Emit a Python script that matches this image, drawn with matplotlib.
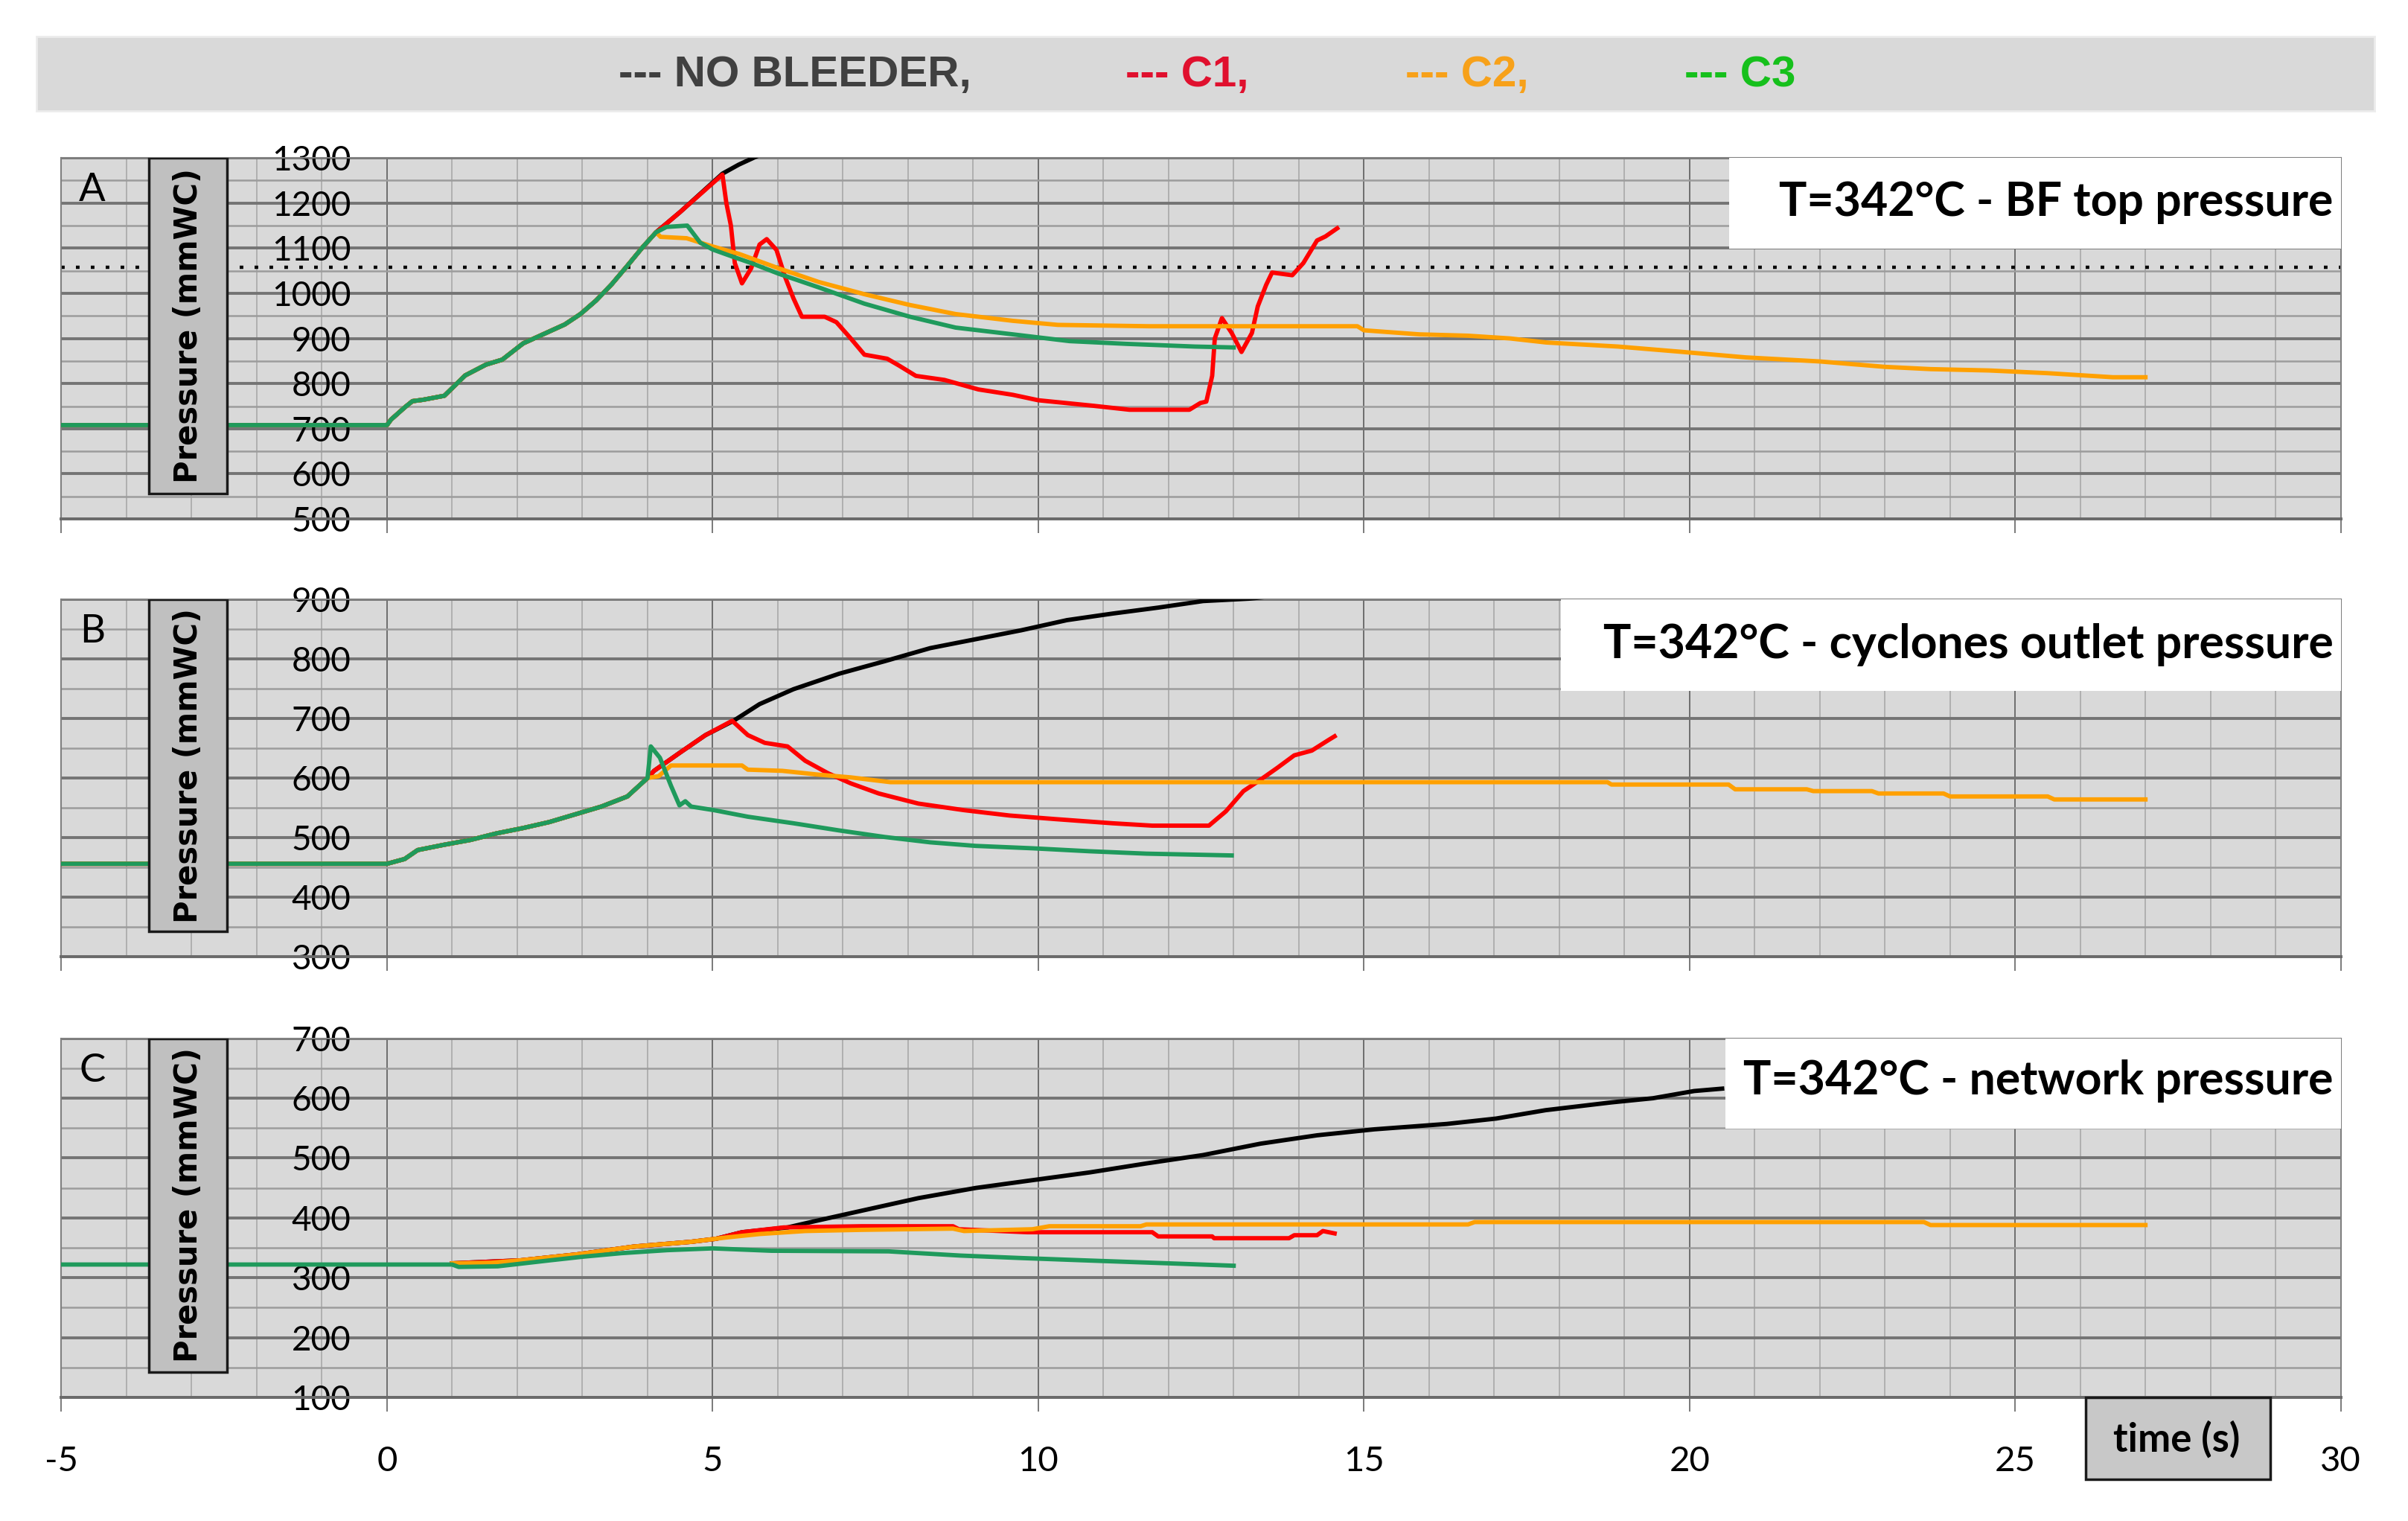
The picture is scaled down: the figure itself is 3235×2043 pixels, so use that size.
import matplotlib.pyplot as plt
from matplotlib.patches import Rectangle
from matplotlib.ticker import MultipleLocator

plt.rcParams['axes.unicode_minus'] = False

# values (time in s, pressure in mmWC)

# panel A - BF top pressure
a_rise_t = [-5, 0, 0.06, 0.27, 0.39, 0.55, 0.88, 1.2, 1.52, 1.77, 2.09, 2.41, 2.73, 2.97, 3.21, 3.45, 3.69, 3.93, 4.13]
a_rise_p = [708, 708, 720, 747, 761, 764, 773, 818, 842, 853, 889, 910, 931, 954, 984, 1020, 1061, 1103, 1135]

a_black_t = a_rise_t + [4.5, 5.15, 5.4, 5.7, 6.0]
a_black_p = a_rise_p + [1180, 1265, 1285, 1305, 1330]

a_red_t = a_rise_t + [4.5, 5.15, 5.21, 5.28, 5.34, 5.45, 5.59, 5.72, 5.83, 5.98, 6.11, 6.24, 6.37, 6.72, 6.9,
                      7.12, 7.33, 7.68, 7.86, 8.12, 8.56, 9.08, 9.61, 10.0, 10.83, 11.4, 12.32, 12.49, 12.58,
                      12.67, 12.71, 12.82, 12.97, 13.12, 13.28, 13.37, 13.5, 13.59, 13.9, 14.07, 14.28, 14.41, 14.59]
a_red_p = a_rise_p + [1180, 1263, 1200, 1150, 1067, 1022, 1055, 1108, 1120, 1096, 1037, 989, 948, 948, 936,
                      900, 864, 855, 840, 817, 808, 787, 775, 763, 751, 742, 742, 757, 760,
                      817, 900, 945, 912, 870, 912, 971, 1019, 1046, 1040, 1067, 1117, 1126, 1144]

a_orange_t = a_rise_t + [4.2, 4.6, 4.97, 5.41, 6.02, 6.63, 7.33, 8.03, 8.73, 9.61, 10.3, 11.7, 14.9, 15.0, 15.85,
                         16.6, 17.24, 17.8, 18.9, 19.9, 20.86, 22.0, 23.0, 23.7, 24.6, 25.5, 26.5, 27.0]
a_orange_p = a_rise_p + [1125, 1122, 1105, 1087, 1055, 1025, 998, 974, 954, 939, 930, 927, 927, 918, 909,
                         906, 900, 891, 882, 870, 858, 849, 837, 832, 829, 823, 814, 814]

a_green_t = a_rise_t + [4.29, 4.61, 4.81, 5.0, 5.29, 5.59, 6.02, 6.63, 7.33, 8.03, 8.73, 9.61, 10.48, 11.35, 12.4, 13.0]
a_green_p = a_rise_p + [1147, 1150, 1112, 1097, 1082, 1067, 1043, 1013, 977, 948, 924, 909, 894, 888, 882, 880]

a_limit = 1058

# panel B - cyclones outlet pressure
b_rise_t = [-5, 0, 0.27, 0.47, 0.88, 1.28, 1.68, 2.09, 2.49, 2.89, 3.29, 3.69, 4.0]
b_rise_p = [456, 456, 464, 479, 488, 496, 507, 516, 526, 539, 552, 569, 600]

b_black_t = b_rise_t + [4.1, 4.49, 4.89, 5.32, 5.72, 6.24, 6.94, 7.64, 8.34, 9.04, 9.74, 10.44, 11.14, 11.84,
                        12.53, 13.23, 13.6]
b_black_p = b_rise_p + [612, 642, 672, 696, 724, 749, 775, 796, 818, 833, 848, 865, 876, 886,
                        897, 901, 905]

b_red_t = b_rise_t + [4.1, 4.49, 4.89, 5.3, 5.54, 5.8, 6.15, 6.42, 6.77, 7.12, 7.55, 8.16, 8.86, 9.56, 10.26,
                      11.14, 11.75, 12.62, 12.88, 13.15, 13.41, 13.67, 13.93, 14.2, 14.46, 14.55]
b_red_p = b_rise_p + [612, 642, 672, 696, 672, 659, 653, 629, 608, 591, 574, 557, 546, 537, 531,
                      524, 520, 520, 544, 578, 597, 617, 638, 646, 664, 670]

b_orange_t = b_rise_t + [4.17, 4.36, 5.45, 5.54, 6.07, 6.59, 7.12, 7.73, 18.74, 18.8, 20.6, 20.7, 21.8, 21.9,
                         22.8, 22.9, 23.9, 24.0, 25.5, 25.6, 27.0]
b_orange_p = b_rise_p + [603, 621, 621, 614, 612, 606, 601, 593, 593, 589, 589, 581, 581, 578,
                         578, 574, 574, 569, 569, 564, 564]

b_green_t = b_rise_t + [4.05, 4.19, 4.36, 4.49, 4.58, 4.67, 5.02, 5.54, 6.24, 6.94, 7.64, 8.34, 9.04, 9.91,
                        10.79, 11.66, 12.97]
b_green_p = b_rise_p + [653, 634, 587, 554, 561, 552, 546, 535, 524, 512, 501, 492, 486, 482,
                        477, 473, 470]

# panel C - network pressure
c_black_t = [1.0, 2.05, 2.92, 3.79, 4.67, 5.05, 5.45, 6.15, 6.59, 7.29, 8.16, 9.04, 9.91, 10.79, 11.66, 12.53,
             13.41, 14.28, 15.16, 16.27, 17.03, 17.79, 18.8, 19.44, 20.07, 20.5]
c_black_p = [324, 329, 339, 352, 360, 365, 376, 384, 395, 412, 433, 450, 463, 476, 491, 505,
             524, 538, 548, 557, 566, 580, 593, 600, 612, 616]

c_red_t = [1.0, 2.05, 2.92, 3.79, 4.67, 5.05, 5.45, 6.09, 7.29, 8.69, 8.78, 9.83, 11.75, 11.84, 12.67, 12.7,
           13.85, 13.93, 14.28, 14.37, 14.55]
c_red_p = [324, 329, 339, 352, 360, 365, 376, 384, 386, 386, 381, 376, 376, 369, 369, 366,
           366, 371, 371, 378, 374]

c_orange_t = [1.0, 1.6, 2.05, 2.92, 3.79, 4.67, 5.19, 5.72, 6.42, 7.29, 8.69, 8.86, 9.91, 10.17, 11.57, 11.66,
              16.6, 16.7, 23.6, 23.7, 27.0]
c_orange_p = [324, 325, 329, 339, 352, 360, 367, 373, 378, 380, 382, 378, 381, 386, 386, 389,
              389, 393, 393, 388, 388]

c_green_t = [-5, 1.0, 1.1, 1.7, 2.1, 2.5, 3.0, 3.6, 4.3, 5.0, 5.9, 7.7, 8.8, 9.7, 10.7, 12.0, 13.0]
c_green_p = [322, 322, 318, 319, 324, 329, 335, 341, 346, 349, 345, 344, 337, 333, 329, 324, 320]

letters = ['A', 'B', 'C']
titles = ['T=342°C - BF top pressure', 'T=342°C - cyclones outlet pressure', 'T=342°C - network pressure']
ylims = [(500, 1300), (300, 900), (100, 700)]
legend_labels = ['--- NO BLEEDER,', '--- C1,', '--- C2,', '--- C3']

col_black = '#000000'
col_red = '#ff0000'
col_orange = '#ffa000'
col_green = '#1f9a5c'

panels = [
    [(a_black_t, a_black_p), (a_red_t, a_red_p), (a_orange_t, a_orange_p), (a_green_t, a_green_p)],
    [(b_black_t, b_black_p), (b_red_t, b_red_p), (b_orange_t, b_orange_p), (b_green_t, b_green_p)],
    [(c_black_t, c_black_p), (c_red_t, c_red_p), (c_orange_t, c_orange_p), (c_green_t, c_green_p)],
]
line_colors = [col_black, col_red, col_orange, col_green]

# layout (figure fractions)
ax_rects = [[0.0255, 0.6588, 0.9466, 0.2374],
            [0.0255, 0.3710, 0.9466, 0.2350],
            [0.0255, 0.0813, 0.9466, 0.2360]]
title_box_x = [0.7317, 0.658, 0.730]
title_box_y = [0.749, 0.744, 0.749]
title_text_y = [0.877, 0.873, 0.881]

fig = plt.figure(figsize=(32.35, 20.43), dpi=100)

# legend band on top
fig.patches.append(Rectangle((0.0153, 0.927), 0.9707, 0.0488, transform=fig.transFigure,
                             facecolor='#d9d9d9', edgecolor='#ececec', lw=2))
leg_x = [0.257, 0.4675, 0.5835, 0.6996]
leg_colors = ['#404040', '#e0102e', '#f7a11a', '#16c01c']
for x, lab, c in zip(leg_x, legend_labels, leg_colors):
    fig.text(x, 0.9505, lab, color=c, fontsize=42, fontweight='bold',
             family=['Liberation Sans', 'DejaVu Sans'], ha='left', va='center')

for i in range(3):
    ax = fig.add_axes(ax_rects[i])
    ax.set_facecolor('#d9d9d9')
    ax.set_xlim(-5, 30)
    ax.set_ylim(*ylims[i])
    ax.xaxis.set_major_locator(MultipleLocator(5))
    ax.xaxis.set_minor_locator(MultipleLocator(1))
    ax.yaxis.set_major_locator(MultipleLocator(100))
    ax.yaxis.set_minor_locator(MultipleLocator(50))
    ax.grid(which='minor', axis='x', color='#a8a8a8', lw=1.2, zorder=0)
    ax.grid(which='major', axis='x', color='#6e6e6e', lw=1.4, zorder=0)
    ax.grid(which='minor', axis='y', color='#9c9c9c', lw=1.8, zorder=0)
    ax.grid(which='major', axis='y', color='#747474', lw=2.8, zorder=0)
    ax.set_axisbelow(True)
    for s in ax.spines.values():
        s.set_color('#808080')
        s.set_linewidth(1.5)
    ax.spines['bottom'].set_linewidth(2.8)
    ax.spines['bottom'].set_color('#6a6a6a')

    ax.tick_params(axis='x', which='major', direction='out', length=14, width=1.3, color='#707070',
                   labelsize=34, pad=33, labelbottom=(i == 2))
    ax.tick_params(axis='x', which='minor', length=0)
    ax.tick_params(axis='y', which='both', length=0)
    ax.tick_params(axis='y', which='major', pad=-280, labelsize=33)
    for lab in ax.get_xticklabels() + ax.get_yticklabels():
        lab.set_family(['Lato', 'DejaVu Sans'])

    for (t, p), c in zip(panels[i], line_colors):
        ax.plot(t, p, color=c, lw=4.2, zorder=3)

    if i == 0:
        ax.axhline(a_limit, color='black', lw=3.2, ls=(0, (1.1, 3.4)), zorder=2.5)

    # boxed y label
    ax.add_patch(Rectangle((0.0384, 0.07), 0.0343, 0.93, transform=ax.transAxes,
                           facecolor='#c0c0c0', edgecolor='#1a1a1a', lw=2.5, zorder=6))
    ax.text(0.0556, 0.535, 'Pressure (mmWC)', transform=ax.transAxes, rotation=90,
            fontsize=30, fontweight='bold', family=['DejaVu Sans'], ha='center', va='center', zorder=7)

    ax.text(0.0135, 0.91, letters[i], transform=ax.transAxes, fontsize=38,
            family=['Lato', 'DejaVu Sans'], ha='center', va='center', zorder=7)

    # white title box
    ax.add_patch(Rectangle((title_box_x[i], title_box_y[i]), 1 - title_box_x[i], 1 - title_box_y[i],
                           transform=ax.transAxes, facecolor='white', edgecolor='none', zorder=6))
    ax.text(0.9967, title_text_y[i], titles[i], transform=ax.transAxes, fontsize=45, fontweight='bold',
            family=['Lato', 'DejaVu Sans'], ha='right', va='center', zorder=7)

    if i == 2:
        ax.add_patch(Rectangle((0.888, -0.228), 0.081, 0.228, transform=ax.transAxes, clip_on=False,
                               facecolor='#c8c8c8', edgecolor='#1a1a1a', lw=2.5, zorder=6))
        ax.text(0.928, -0.116, 'time (s)', transform=ax.transAxes, fontsize=38, fontweight='bold',
                family=['Lato', 'DejaVu Sans'], ha='center', va='center', zorder=7, clip_on=False)

fig.savefig('out.png', dpi=100, facecolor='white')
